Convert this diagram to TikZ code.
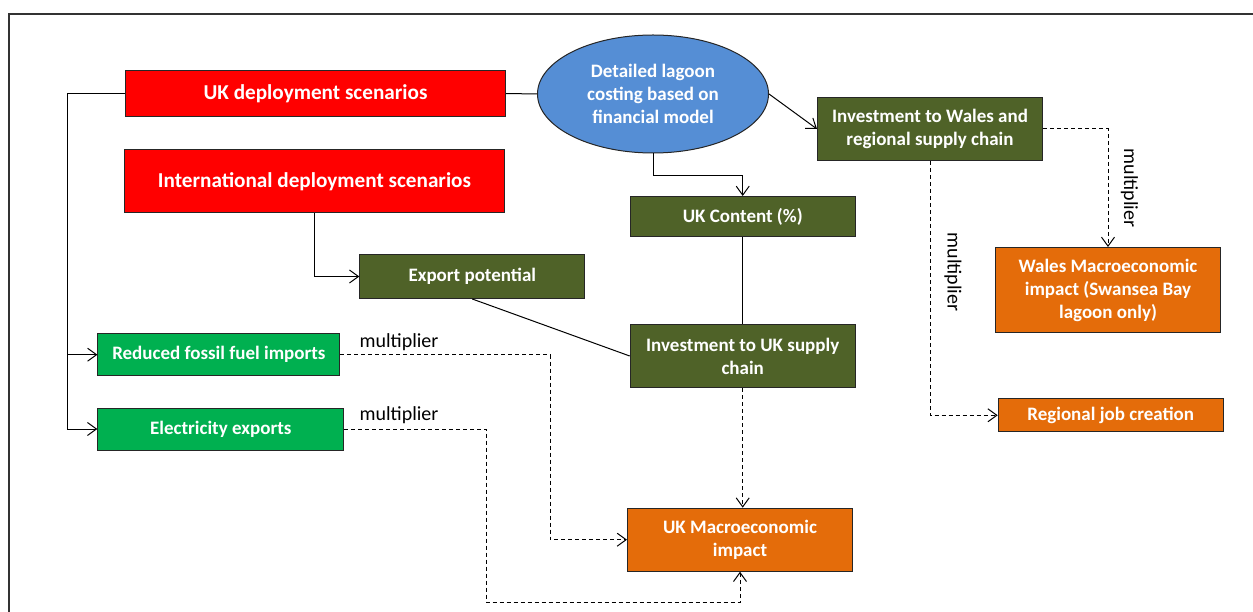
\documentclass[tikz,border=0pt]{standalone}
\usepackage{fontspec}
\setmainfont{Carlito}
\usepackage{tikz}
\usetikzlibrary{arrows.meta, shapes.geometric}

\definecolor{ukred}{HTML}{FF0000}
\definecolor{lagoonblue}{HTML}{558ED5}
\definecolor{olive}{HTML}{4F6228}
\definecolor{fuelgreen}{HTML}{00B050}
\definecolor{impactorange}{HTML}{E46C0A}

\tikzset{
    box/.style={draw=black!85, line width=1pt, inner sep=0pt, align=center,
        text=white, font=\fontsize{19}{23}\selectfont\bfseries},
    bigbox/.style={box, font=\fontsize{21.2}{25}\selectfont\bfseries},
    link/.style={line width=1pt, -{Straight Barb[length=9pt, width=13pt]}},
    plain/.style={line width=1pt},
    mult/.style={dash pattern=on 4pt off 3pt},
    multlabel/.style={font=\fontsize{20}{24}\selectfont, inner sep=0pt}
}

\begin{document}
\begin{tikzpicture}[x=1pt, y=-1pt]
    \useasboundingbox (0,0) rectangle (1253,612);

    % Frame
    \draw[line width=2pt, black!80] (1253,14) -- (9,14) -- (9,612);

    % Scenarios
    \node[bigbox, fill=ukred, minimum width=380pt, minimum height=46pt] (ukdep) at (315.5,93.5) {UK deployment scenarios};
    \node[bigbox, fill=ukred, minimum width=380pt, minimum height=63pt] (intdep) at (314.5,181.3) {International deployment scenarios};
    \node[box, fill=lagoonblue, ellipse, minimum width=231pt, minimum height=118pt] (lagoon) at (653,94) {Detailed lagoon\\costing based on\\financial model};

    % Investment
    \node[box, fill=olive, minimum width=225pt, minimum height=63pt] (walesinv) at (930,129) {Investment to Wales and\\regional supply chain};
    \node[box, fill=olive, minimum width=225pt, minimum height=40pt] (ukcontent) at (742.7,216.5) {UK Content (\%)};
    \node[box, fill=olive, minimum width=225pt, minimum height=44pt] (export) at (472.3,276.5) {Export potential};
    \node[box, fill=olive, minimum width=225pt, minimum height=63pt] (ukinv) at (742.7,356) {Investment to UK supply\\chain};

    % Benefits
    \node[box, fill=fuelgreen, minimum width=242pt, minimum height=42pt] (fossil) at (218.9,354.7) {Reduced fossil fuel imports};
    \node[box, fill=fuelgreen, minimum width=246pt, minimum height=42pt] (elec) at (220.8,429) {Electricity exports};

    % Impacts
    \node[box, fill=impactorange, minimum width=225pt, minimum height=85pt] (walesmacro) at (1108,290) {Wales Macroeconomic\\impact (Swansea Bay\\lagoon only)};
    \node[box, fill=impactorange, minimum width=225pt, minimum height=33pt] (jobs) at (1110.7,415.3) {Regional job creation};
    \node[box, fill=impactorange, minimum width=225pt, minimum height=63pt] (ukmacro) at (740,539.7) {UK Macroeconomic\\impact};

    % Links
    \coordinate (trunk) at (67,93.5);
    \draw[link] (ukdep.west) -- (trunk) |- (elec.west);
    \draw[link] (trunk |- fossil.west) -- (fossil.west);
    \draw[plain] (ukdep.east) -- (lagoon.west);
    \draw[link] (intdep.south) |- (export.west);
    \draw[plain] (export.south) -- (ukinv.west);
    \draw[link] (lagoon.south) -- ++(0,21.6) -| (ukcontent.north);
    \draw[link] (lagoon.east) -- (walesinv.west);
    \draw[plain] (ukcontent.south) -- (ukinv.north);

    % Multipliers
    \draw[link, mult] (ukinv.south) -- (ukinv.south |- ukmacro.north);
    \draw[link, mult] (walesinv.east) -| (walesmacro.north);
    \draw[link, mult] (walesinv.south) |- (jobs.west);
    \draw[link, mult] (fossil.east) -- ++(210,0) |- (ukmacro.west);
    \draw[link, mult] (elec.east) -- ++(142.4,0) -- ++(0,173.7) -| (ukmacro.south);
    \node[multlabel] (multfossil) at (399,342.3) {multiplier};
    \node[multlabel] (multelec) at (399,415) {multiplier};
    \node[multlabel, rotate=-90] (multwales) at (1129.5,188) {multiplier};
    \node[multlabel, rotate=-90] (multjobs) at (953,272) {multiplier};
\end{tikzpicture}
\end{document}
